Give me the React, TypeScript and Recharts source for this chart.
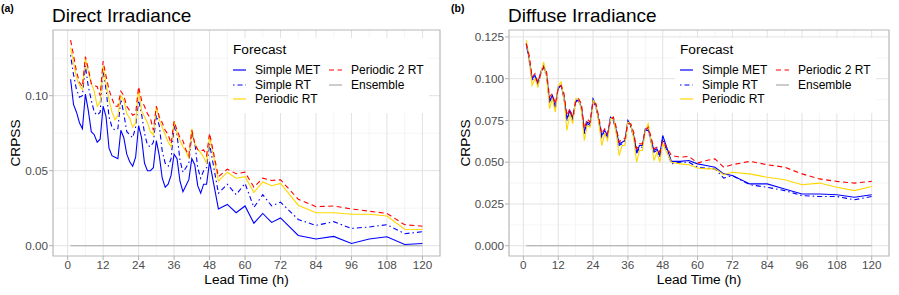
import { LineChart, Line, XAxis, YAxis, CartesianGrid, ReferenceArea, Legend } from 'recharts';

// lead times: hourly to 48 h, 3-hourly to 72 h, 6-hourly to 120 h
const leadTimes = [
  1, 2, 3, 4, 5, 6, 7, 8, 9, 10, 11, 12,
  13, 14, 15, 16, 17, 18, 19, 20, 21, 22, 23, 24,
  25, 26, 27, 28, 29, 30, 31, 32, 33, 34, 35, 36,
  37, 38, 39, 40, 41, 42, 43, 44, 45, 46, 47, 48,
  51, 54, 57, 60, 63, 66, 69, 72,
  78, 84, 90, 96, 102, 108, 114, 120,
];

// (a) Direct irradiance
const directMet = [
  0.111, 0.094, 0.089, 0.082, 0.078, 0.101,
  0.090, 0.076, 0.074, 0.069, 0.071, 0.093,
  0.086, 0.065, 0.060, 0.059, 0.058, 0.077,
  0.072, 0.061, 0.056, 0.053, 0.059, 0.080,
  0.072, 0.055, 0.050, 0.050, 0.052, 0.070,
  0.060, 0.045, 0.039, 0.041, 0.047, 0.061,
  0.058, 0.043, 0.036, 0.040, 0.044, 0.058,
  0.054, 0.040, 0.035, 0.041, 0.041, 0.056,
  0.0245, 0.0275, 0.022, 0.0265, 0.015, 0.0215, 0.0155, 0.0185,
  0.0068, 0.0045, 0.0062, 0.0015, 0.0045, 0.006, 0.0008, 0.0015,
];
const directRt = [
  0.127, 0.114, 0.104, 0.099, 0.100, 0.120,
  0.106, 0.097, 0.089, 0.087, 0.089, 0.118,
  0.104, 0.086, 0.079, 0.077, 0.078, 0.098,
  0.088, 0.076, 0.074, 0.072, 0.079, 0.097,
  0.088, 0.075, 0.067, 0.066, 0.069, 0.087,
  0.080, 0.063, 0.055, 0.053, 0.058, 0.080,
  0.074, 0.057, 0.049, 0.052, 0.055, 0.075,
  0.069, 0.052, 0.045, 0.050, 0.052, 0.068,
  0.035, 0.041, 0.034, 0.0415, 0.0255, 0.034, 0.0265, 0.029,
  0.0175, 0.0135, 0.016, 0.0115, 0.0125, 0.014, 0.008, 0.0093,
];
const directPrt = [
  0.132, 0.122, 0.112, 0.107, 0.104, 0.125,
  0.116, 0.108, 0.103, 0.093, 0.096, 0.120,
  0.108, 0.097, 0.089, 0.084, 0.087, 0.100,
  0.097, 0.088, 0.085, 0.079, 0.082, 0.104,
  0.090, 0.086, 0.082, 0.076, 0.074, 0.093,
  0.084, 0.079, 0.074, 0.069, 0.066, 0.083,
  0.075, 0.070, 0.066, 0.063, 0.058, 0.078,
  0.068, 0.064, 0.062, 0.059, 0.055, 0.073,
  0.043, 0.049, 0.045, 0.046, 0.0355, 0.0425, 0.040, 0.0415,
  0.027, 0.022, 0.022, 0.021, 0.021, 0.0198, 0.011, 0.0108,
];
const directP2rt = [
  0.137, 0.127, 0.116, 0.109, 0.106, 0.126,
  0.118, 0.108, 0.107, 0.106, 0.100, 0.123,
  0.113, 0.104, 0.098, 0.093, 0.093, 0.103,
  0.100, 0.093, 0.090, 0.087, 0.088, 0.106,
  0.097, 0.093, 0.088, 0.085, 0.077, 0.093,
  0.086, 0.082, 0.077, 0.074, 0.068, 0.083,
  0.077, 0.072, 0.070, 0.064, 0.060, 0.077,
  0.068, 0.064, 0.063, 0.064, 0.060, 0.075,
  0.046, 0.051, 0.048, 0.049, 0.039, 0.045, 0.0435, 0.044,
  0.031, 0.026, 0.0265, 0.0245, 0.023, 0.0215, 0.014, 0.013,
];

// (b) Diffuse irradiance
const diffuseMet = [
  0.121, 0.112, 0.100, 0.102, 0.097, 0.104,
  0.108, 0.102, 0.087, 0.090, 0.083, 0.095,
  0.096, 0.089, 0.076, 0.081, 0.076, 0.087,
  0.087, 0.083, 0.068, 0.074, 0.073, 0.088,
  0.084, 0.075, 0.066, 0.069, 0.066, 0.077,
  0.076, 0.069, 0.061, 0.062, 0.063, 0.075,
  0.072, 0.066, 0.056, 0.060, 0.060, 0.070,
  0.070, 0.063, 0.057, 0.058, 0.054, 0.066,
  0.0505, 0.0505, 0.051, 0.049, 0.048, 0.047, 0.043, 0.042,
  0.037, 0.037, 0.034, 0.031, 0.031, 0.0305, 0.029, 0.0305,
];
const diffuseRt = [
  0.121, 0.111, 0.099, 0.101, 0.096, 0.103,
  0.107, 0.101, 0.086, 0.089, 0.082, 0.094,
  0.096, 0.088, 0.075, 0.080, 0.075, 0.086,
  0.087, 0.082, 0.067, 0.073, 0.072, 0.087,
  0.083, 0.074, 0.065, 0.068, 0.065, 0.076,
  0.075, 0.068, 0.060, 0.061, 0.062, 0.074,
  0.071, 0.065, 0.055, 0.059, 0.059, 0.069,
  0.069, 0.062, 0.056, 0.057, 0.053, 0.064,
  0.049, 0.050, 0.050, 0.047, 0.0465, 0.046, 0.0405, 0.042,
  0.0365, 0.035, 0.033, 0.030, 0.0295, 0.0295, 0.0275, 0.0295,
];
const diffusePrt = [
  0.123, 0.113, 0.096, 0.100, 0.095, 0.103,
  0.110, 0.101, 0.082, 0.088, 0.080, 0.096,
  0.098, 0.088, 0.069, 0.079, 0.073, 0.088,
  0.088, 0.081, 0.063, 0.072, 0.071, 0.087,
  0.085, 0.073, 0.060, 0.067, 0.063, 0.076,
  0.077, 0.067, 0.054, 0.060, 0.060, 0.074,
  0.073, 0.064, 0.050, 0.057, 0.057, 0.069,
  0.073, 0.062, 0.051, 0.056, 0.050, 0.061,
  0.050, 0.049, 0.0485, 0.0465, 0.046, 0.046, 0.0425, 0.044,
  0.043, 0.041, 0.0395, 0.0365, 0.0375, 0.035, 0.033, 0.0355,
];
const diffuseP2rt = [
  0.121, 0.114, 0.101, 0.103, 0.098, 0.103,
  0.107, 0.104, 0.089, 0.091, 0.085, 0.094,
  0.096, 0.091, 0.078, 0.082, 0.077, 0.086,
  0.088, 0.085, 0.070, 0.076, 0.074, 0.086,
  0.085, 0.077, 0.067, 0.070, 0.067, 0.075,
  0.077, 0.071, 0.062, 0.064, 0.064, 0.073,
  0.073, 0.068, 0.058, 0.061, 0.061, 0.069,
  0.071, 0.065, 0.058, 0.059, 0.056, 0.063,
  0.054, 0.053, 0.0535, 0.0495, 0.051, 0.052, 0.047, 0.0485,
  0.0505, 0.0485, 0.047, 0.043, 0.040, 0.0385, 0.0375, 0.0385,
];

// ensemble is the reference forecast, so its skill is zero everywhere
const ensemble = [
  0, 0, 0, 0, 0, 0, 0, 0, 0, 0, 0, 0, 0, 0, 0, 0,
  0, 0, 0, 0, 0, 0, 0, 0, 0, 0, 0, 0, 0, 0, 0, 0,
  0, 0, 0, 0, 0, 0, 0, 0, 0, 0, 0, 0, 0, 0, 0, 0,
  0, 0, 0, 0, 0, 0, 0, 0, 0, 0, 0, 0, 0, 0, 0, 0,
];

const xTicks = [0, 12, 24, 36, 48, 60, 72, 84, 96, 108, 120];
const xMinor = [6, 18, 30, 42, 54, 66, 78, 90, 102, 114];
const directTicks = [0, 0.05, 0.1];
const directMinor = [0.025, 0.075, 0.125];
const diffuseTicks = [0, 0.025, 0.05, 0.075, 0.1, 0.125];
const diffuseMinor = [0.0125, 0.0375, 0.0625, 0.0875, 0.1125];

const SERIES = [
  { key: 'met', name: 'Simple MET', color: '#0000ff', dash: undefined },
  { key: 'rt', name: 'Simple RT', color: '#0000ff', dash: '1.5 3 5 3' },
  { key: 'prt', name: 'Periodic RT', color: '#ffd700', dash: undefined },
  { key: 'p2rt', name: 'Periodic 2 RT', color: '#ff0000', dash: '5 3.5' },
  { key: 'ens', name: 'Ensemble', color: '#a9a9a9', dash: undefined },
];

const FONT = '"Liberation Sans", Arial, sans-serif';
const X_DOMAIN: [number, number] = [-4.95, 125.95];

const directRows = leadTimes.map((t, i) => ({
  t, met: directMet[i], rt: directRt[i], prt: directPrt[i], p2rt: directP2rt[i], ens: ensemble[i],
}));
const diffuseRows = leadTimes.map((t, i) => ({
  t, met: diffuseMet[i], rt: diffuseRt[i], prt: diffusePrt[i], p2rt: diffuseP2rt[i], ens: ensemble[i],
}));

function LegendItem({ s }: { s: typeof SERIES[number] }) {
  return (
    <div style={{ display: 'flex', alignItems: 'center', height: 14.6 }}>
      <svg width={13} height={10} style={{ display: 'block' }}>
        <line x1={0} x2={13} y1={5} y2={5} stroke={s.color} strokeWidth={1.2} strokeDasharray={s.dash} />
      </svg>
      <span style={{ marginLeft: 9, fontSize: 12, whiteSpace: 'nowrap', color: '#000' }}>{s.name}</span>
    </div>
  );
}

function LegendBox() {
  return (
    <div style={{ background: '#fff', padding: '4px 6px 6px 5px', fontFamily: FONT }}>
      <div style={{ fontSize: 13.7, lineHeight: '15px', color: '#000' }}>Forecast</div>
      <div style={{ display: 'flex', marginTop: 6 }}>
        <div style={{ width: 96 }}>
          {SERIES.slice(0, 3).map(s => <LegendItem key={s.key} s={s} />)}
        </div>
        <div>
          {SERIES.slice(3).map(s => <LegendItem key={s.key} s={s} />)}
        </div>
      </div>
    </div>
  );
}

const yLabel = (props: any) => {
  const { viewBox } = props;
  const x = viewBox.x + 20;
  const y = viewBox.y + viewBox.height / 2;
  return (
    <text x={x} y={y} transform={`rotate(-90, ${x}, ${y})`} textAnchor="middle" fontSize={13.7} fill="#000">
      CRPSS
    </text>
  );
};

const xLabel = (props: any) => {
  const { viewBox } = props;
  return (
    <text x={viewBox.x + viewBox.width / 2} y={viewBox.y + 27.5} textAnchor="middle" fontSize={13.7} fill="#000">
      Lead Time (h)
    </text>
  );
};

type PanelProps = {
  tag: string;
  title: string;
  rows: any[];
  yDomain: [number, number];
  yTicks: number[];
  yMinor: number[];
  digits: number;
  left: number;
  width: number;
  yAxisWidth: number;
  legendLeft: number;
};

function Panel({ tag, title, rows, yDomain, yTicks, yMinor, digits, left, width, yAxisWidth, legendLeft }: PanelProps) {
  return (
    <div style={{ position: 'absolute', left, top: 0, width, height: 295 }}>
      <LineChart width={width} height={295} data={rows} margin={{ top: 30, right: 10, bottom: 0, left: 0 }}>
        <CartesianGrid horizontalValues={yMinor} verticalValues={xMinor} stroke="#efefef" strokeWidth={0.6} />
        <CartesianGrid horizontalValues={yTicks} verticalValues={xTicks} stroke="#e2e2e2" strokeWidth={1} />
        <XAxis
          dataKey="t"
          type="number"
          domain={X_DOMAIN}
          ticks={xTicks}
          interval={0}
          allowDataOverflow
          axisLine={false}
          tickLine={{ stroke: '#b3b3b3' }}
          tickSize={4}
          tickMargin={1}
          height={39}
          tick={{ fill: '#4d4d4d', fontSize: 11.7 }}
          label={xLabel}
        />
        <YAxis
          type="number"
          domain={yDomain}
          ticks={yTicks}
          interval={0}
          allowDataOverflow
          axisLine={false}
          tickLine={{ stroke: '#b3b3b3' }}
          tickSize={4}
          tickMargin={1}
          width={yAxisWidth}
          tick={{ fill: '#4d4d4d', fontSize: 11.7 }}
          tickFormatter={(v: number) => v.toFixed(digits)}
          label={yLabel}
        />
        <ReferenceArea
          x1={X_DOMAIN[0]} x2={X_DOMAIN[1]} y1={yDomain[0]} y2={yDomain[1]}
          fill="none" stroke="#b8b8b8" strokeWidth={1.2}
        />
        {SERIES.map(s => (
          <Line
            key={s.key}
            type="linear"
            dataKey={s.key}
            name={s.name}
            stroke={s.color}
            strokeWidth={1.1}
            strokeDasharray={s.dash}
            dot={false}
            activeDot={false}
            isAnimationActive={false}
          />
        ))}
        <Legend
          layout="horizontal"
          verticalAlign="middle"
          align="center"
          content={() => <LegendBox />}
          wrapperStyle={{ left: legendLeft, top: 38, width: 'auto', height: 'auto' }}
        />
      </LineChart>
      <svg width={width} height={30} style={{ position: 'absolute', left: 0, top: 0, fontFamily: FONT }}>
        <text x={1} y={11.5} fontSize={10.5} fontWeight="bold" fill="#000">{tag}</text>
        <text x={yAxisWidth - 1} y={21.7} fontSize={19} fill="#000">{title}</text>
      </svg>
    </div>
  );
}

export default function App() {
  return (
    <div style={{ position: 'absolute', left: 0, top: 0, width: 899, height: 295, background: '#fff', fontFamily: FONT }}>
      <Panel
        tag="(a)"
        title="Direct Irradiance"
        rows={directRows}
        yDomain={[-0.00687, 0.1438]}
        yTicks={directTicks}
        yMinor={directMinor}
        digits={2}
        left={0}
        width={450}
        yAxisWidth={53}
        legendLeft={228}
      />
      <Panel
        tag="(b)"
        title="Diffuse Irradiance"
        rows={diffuseRows}
        yDomain={[-0.00615, 0.12915]}
        yTicks={diffuseTicks}
        yMinor={diffuseMinor}
        digits={3}
        left={450}
        width={449}
        yAxisWidth={59}
        legendLeft={225}
      />
    </div>
  );
}
